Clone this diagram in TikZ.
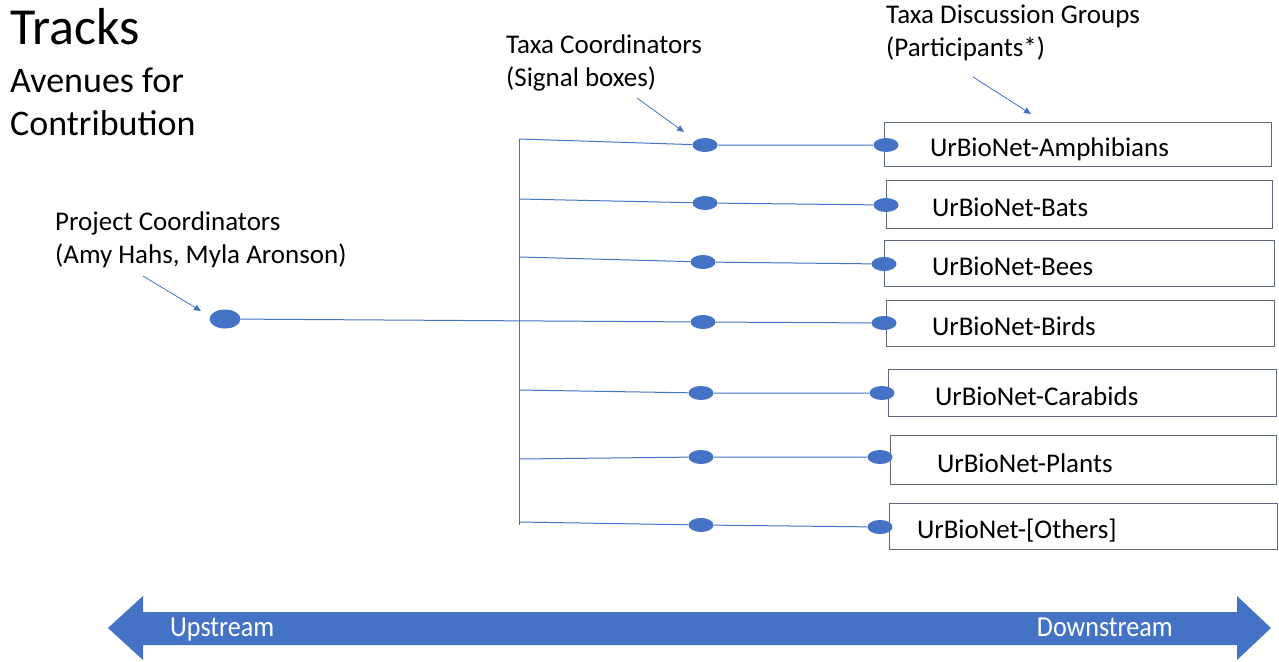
\documentclass[tikz,border=0pt]{standalone}
\usepackage{fontspec}
\setmainfont{Carlito}
\usetikzlibrary{arrows.meta,shapes.geometric}
\definecolor{obl}{HTML}{4472C4}
\definecolor{boxc}{RGB}{95,105,125}
\begin{document}
\begin{tikzpicture}[x=1pt,y=-1pt,
  conn/.style={draw=obl, line width=1pt},
  ptr/.style={draw=obl, line width=0.8pt, -{Triangle[length=7pt,width=6pt]}},
  dot/.style={ellipse, fill=obl, minimum width=25pt, minimum height=14pt, inner sep=0pt},
  bigdot/.style={ellipse, fill=obl, minimum width=31pt, minimum height=19pt, inner sep=0pt},
  gbox/.style={draw=boxc, line width=0.8pt, inner xsep=0pt, inner ysep=0pt, align=left,
    text height=26pt, text depth=1pt, font=\fontsize{27}{32}\selectfont},
  lbl/.style={anchor=north west, inner sep=0pt, align=left, font=\fontsize{27}{33}\selectfont},
  flow/.style={text=white, inner sep=0pt, font=\fontsize{29}{34}\selectfont, xscale=0.9}
]
\useasboundingbox (0,0) rectangle (1279,661);

% titles
\node[anchor=base west, inner sep=0pt, font=\fontsize{52}{62}\selectfont] (title) at (10,45) {Tracks};
\node[anchor=north west, inner sep=0pt, align=left, font=\fontsize{36}{43}\selectfont] (sub) at (10,68) {Avenues for\\Contribution};

% labels
\node[lbl] (lpc) at (55,212) {Project Coordinators\\(Amy Hahs, Myla Aronson)};
\node[lbl] (ltc) at (506,35) {Taxa Coordinators\\(Signal boxes)};
\node[lbl] (ltd) at (886,5) {Taxa Discussion Groups\\(Participants*)};

% boxes
\node[gbox, text width=387pt, minimum height=44pt] (g1) at (1077.5,144) {\hspace*{46pt}UrBioNet-Amphibians};
\node[gbox, text width=386pt, minimum height=48pt] (g2) at (1079,204) {\hspace*{46pt}UrBioNet-Bats};
\node[gbox, text width=390pt, minimum height=46pt] (g3) at (1079,263) {\hspace*{48pt}UrBioNet-Bees};
\node[gbox, text width=388pt, minimum height=46pt] (g4) at (1080,323) {\hspace*{46pt}UrBioNet-Birds};
\node[gbox, text width=388pt, minimum height=47pt] (g5) at (1082,392.5) {\hspace*{47pt}UrBioNet-Carabids};
\node[gbox, text width=386pt, minimum height=49pt] (g6) at (1083,459.5) {\hspace*{47pt}UrBioNet-Plants};
\node[gbox, text width=388pt, minimum height=46pt] (g7) at (1083,526) {\hspace*{28pt}UrBioNet-[Others]};

% dots
\node[bigdot] (pc) at (225,319) {};
\node[dot] (t1) at (705,145) {};
\node[dot] (t2) at (705,203) {};
\node[dot] (t3) at (703,262) {};
\node[dot] (t4) at (703,322) {};
\node[dot] (t5) at (701,393) {};
\node[dot] (t6) at (701,457) {};
\node[dot] (t7) at (701,525) {};
\node[dot] (e1) at (886,145) {};
\node[dot] (e2) at (886,205) {};
\node[dot] (e3) at (884,264) {};
\node[dot] (e4) at (884,323) {};
\node[dot] (e5) at (882,393) {};
\node[dot] (e6) at (880,457) {};
\node[dot] (e7) at (880,527) {};

% bus
\coordinate (b1) at (519,139);
\coordinate (b2) at (519,199);
\coordinate (b3) at (519,257);
\coordinate (b5) at (519,390);
\coordinate (b6) at (519,459);
\coordinate (b7) at (519,522);
\coordinate (bb) at (519,525);
\draw[conn] (b1) -- (bb);
\draw[conn] (b1) -- (t1) -- (e1);
\draw[conn] (b2) -- (t2) -- (e2);
\draw[conn] (b3) -- (t3) -- (e3);
\draw[conn] (pc) -- (t4) -- (e4);
\draw[conn] (b5) -- (t5) -- (e5);
\draw[conn] (b6) -- (t6) -- (e6);
\draw[conn] (b7) -- (t7) -- (e7);

% pointer arrows
\coordinate (p1s) at (143,276);
\coordinate (p1e) at (201,311);
\coordinate (p2s) at (637,98);
\coordinate (p2e) at (684,132);
\coordinate (p3s) at (973,77);
\coordinate (p3e) at (1031,114);
\draw[ptr] (p1s) -- (p1e);
\draw[ptr] (p2s) -- (p2e);
\draw[ptr] (p3s) -- (p3e);

% big flow arrow
\fill[obl] (108,628) -- (143,596) -- (143,612) -- (1237,612) -- (1237,596) -- (1271,628)
  -- (1237,660) -- (1237,645) -- (143,645) -- (143,660) -- cycle;
\node[flow, anchor=base west] (up) at (170,636) {Upstream};
\node[flow, anchor=base east] (down) at (1173,636) {Downstream};
\end{tikzpicture}
\end{document}
